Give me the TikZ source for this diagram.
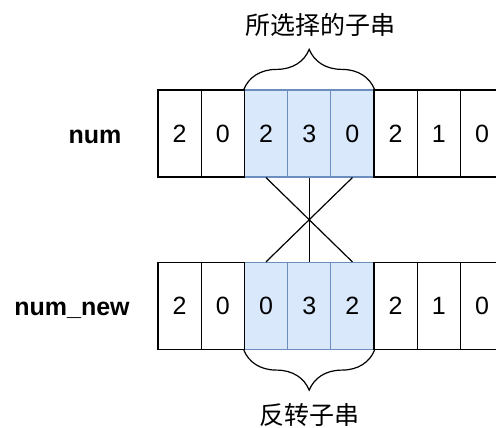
\documentclass[tikz,border=0pt]{standalone}
\usepackage{fontspec}
\setmainfont{Liberation Sans}
\newfontfamily\cjk{Noto Sans CJK SC}
\usetikzlibrary{decorations.pathreplacing}
\definecolor{subfill}{HTML}{DAE8FC}
\definecolor{subline}{HTML}{6C8EBF}
\tikzset{
  cell/.style={draw, line width=1.2pt, minimum width=43.2pt, minimum height=87pt, inner sep=0pt, font=\fontsize{25}{30}\selectfont},
  sub/.style={cell, fill=subfill, draw=subline},
  rowname/.style={font=\fontsize{25}{30}\selectfont\bfseries, anchor=base},
  tag/.style={font=\fontsize{25}{30}\selectfont\cjk},
  brc/.style={decorate, decoration={brace, amplitude=40pt}, line width=1.2pt},
  cross/.style={line width=1.2pt}
}
\begin{document}
\begin{tikzpicture}[x=1pt, y=-1pt]
\useasboundingbox (0,0) rectangle (496,428);

% row labels
\node[rowname] (numlab) at (95,143) {num};
\node[rowname] (newlab) at (72,315) {num\_new};

% selected cells first, plain cells on top
\foreach \i/\v in {2/2,3/3,4/0}
  \node[sub] (t\i) at ({179.6+43.2*\i},133.5) {\v};
\foreach \i/\v in {0/2,1/0,5/2,6/1,7/0}
  \node[cell] (t\i) at ({179.6+43.2*\i},133.5) {\v};

\foreach \i/\v in {2/0,3/3,4/2}
  \node[sub] (b\i) at ({179.6+43.2*\i},306) {\v};
\foreach \i/\v in {0/2,1/0,5/2,6/1,7/0}
  \node[cell] (b\i) at ({179.6+43.2*\i},306) {\v};

% reversal
\draw[cross] (t2.south) -- (b4.north);
\draw[cross] (t4.south) -- (b2.north);
\draw[cross] (t3.south) -- (b3.north);

% braces
\draw[brc] (t2.north west) -- (t4.north east);
\node[tag] (sel) at (320,25) {所选择的子串};
\draw[brc] (b4.south east) -- (b2.south west);
\node[tag] (rev) at (309,415) {反转子串};

\end{tikzpicture}
\end{document}
